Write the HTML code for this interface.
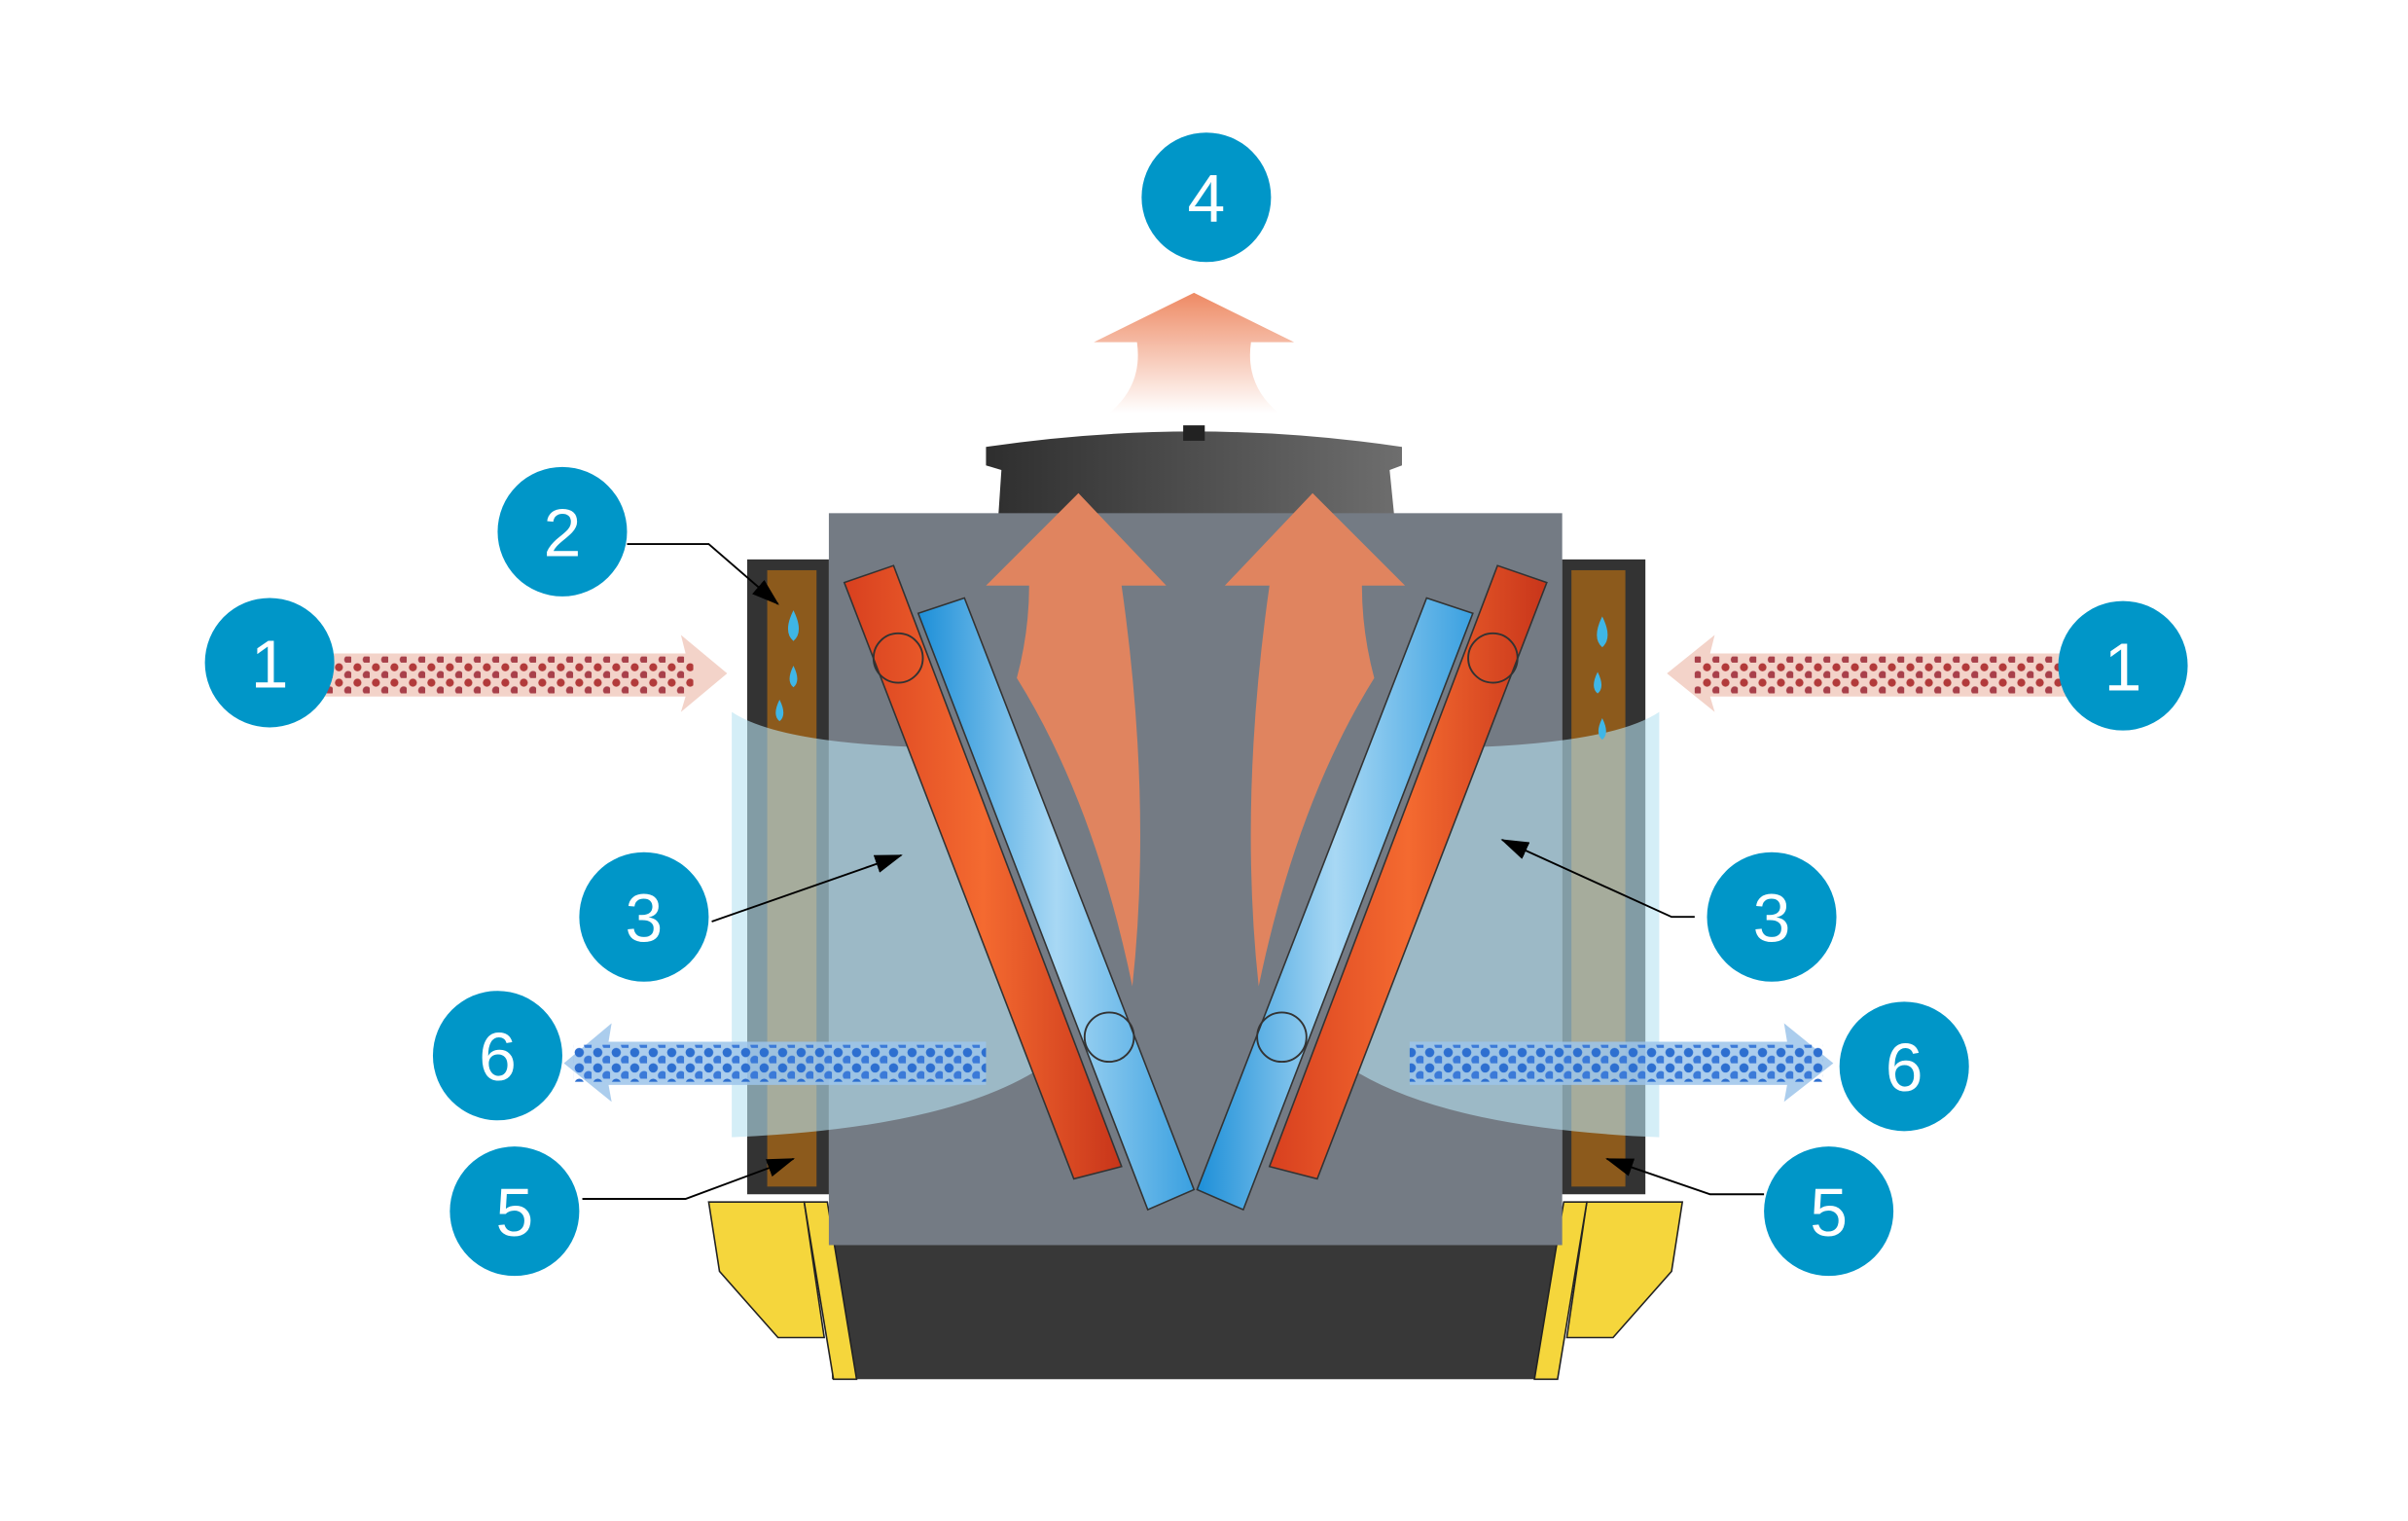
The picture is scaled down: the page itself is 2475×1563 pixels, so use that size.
<!DOCTYPE html>
<html><head><meta charset="utf-8"><style>html,body{margin:0;padding:0;background:#fff}svg{display:block}</style></head>
<body>
<svg width="2475" height="1563" viewBox="0 0 1563 987" xmlns="http://www.w3.org/2000/svg" font-family="Liberation Sans, sans-serif">
<defs>
<linearGradient id="fan" x1="0" x2="1"><stop offset="0" stop-color="#2e2e2e"/><stop offset="1" stop-color="#6e6e6e"/></linearGradient>
<linearGradient id="up" x1="0" y1="0" x2="0" y2="1"><stop offset="0" stop-color="#ee8a64"/><stop offset="1" stop-color="#ee8a64" stop-opacity="0"/></linearGradient>
<linearGradient id="og" x1="0" x2="1"><stop offset="0" stop-color="#d8401f"/><stop offset=".5" stop-color="#f46a30"/><stop offset="1" stop-color="#c8351a"/></linearGradient>
<linearGradient id="bg" x1="0" x2="1"><stop offset="0" stop-color="#1d8fd8"/><stop offset=".5" stop-color="#a8d8f4"/><stop offset="1" stop-color="#3aa0e0"/></linearGradient>
<pattern id="rd" width="12" height="10" patternUnits="userSpaceOnUse"><circle cx="4" cy="3" r="2.6" fill="#b23a3a"/><circle cx="10" cy="8" r="2.6" fill="#a8404a"/></pattern>
<pattern id="bd" width="12" height="10" patternUnits="userSpaceOnUse"><circle cx="4" cy="3" r="3" fill="#2d6fd0"/><circle cx="10" cy="8" r="3" fill="#3b7ad8"/></pattern>
<marker id="ah" markerWidth="18" markerHeight="12" refX="17" refY="6" orient="auto" markerUnits="userSpaceOnUse" viewBox="0 0 18 12"><path d="M0,0L18,6L0,12z" fill="#000"/></marker>
</defs>
<path d="M710,222 L775,190 L840,222 L812,222 Q808,250 830,268 L720,268 Q742,250 738,222 Z" fill="url(#up)"/>
<path d="M640,290 Q775,270 910,290 L910,302 L902,305 L905,335 L648,335 L650,305 L640,302 Z" fill="url(#fan)"/>
<rect x="768" y="276" width="14" height="10" fill="#222"/>
<rect x="540" y="805" width="470" height="90" fill="#383838"/>
<polygon points="460,780 522,780 535,868 505,868 467,825" fill="#f5d63c" stroke="#222" stroke-width="1"/>
<polygon points="522,780 537,780 556,895 541,895" fill="#f5d63c" stroke="#222" stroke-width="1"/>
<polygon points="1092,780 1030,780 1017,868 1047,868 1085,825" fill="#f5d63c" stroke="#222" stroke-width="1"/>
<polygon points="1030,780 1015,780 996,895 1011,895" fill="#f5d63c" stroke="#222" stroke-width="1"/>
<rect x="538" y="333" width="476" height="475" fill="#747b84"/>
<rect x="485" y="363" width="53" height="412" fill="#333"/>
<rect x="498" y="370" width="32" height="400" fill="#8c5a1c"/>
<rect x="1014" y="363" width="54" height="412" fill="#333"/>
<rect x="1020" y="370" width="35" height="400" fill="#8c5a1c"/>
<path d="M475,462 Q505,482 600,485 L680,690 Q620,732 475,738 Z" fill="#b8e2f2" opacity=".6"/>
<path d="M1077,462 Q1047,482 952,485 L872,690 Q932,732 1077,738 Z" fill="#b8e2f2" opacity=".6"/>
<path d="M640,380 L700,320 L757,380 L728,380 Q748,520 735,640 Q710,520 660,440 Q668,410 668,380 Z" fill="#e0845f"/>
<path d="M912,380 L852,320 L795,380 L824,380 Q804,520 817,640 Q842,520 892,440 Q884,410 884,380 Z" fill="#e0845f"/>
<polygon points="548,378 580,367 728,757 697,765" fill="url(#og)" stroke="#333" stroke-width="1"/>
<polygon points="596,398 626,388 775,772 745,785" fill="url(#bg)" stroke="#333" stroke-width="1"/>
<polygon points="1004,378 972,367 824,757 855,765" fill="url(#og)" stroke="#333" stroke-width="1"/>
<polygon points="956,398 926,388 777,772 807,785" fill="url(#bg)" stroke="#333" stroke-width="1"/>
<g fill="none" stroke="#333" stroke-width="1.2"><circle cx="583" cy="427" r="16"/><circle cx="720" cy="673" r="16"/><circle cx="969" cy="427" r="16"/><circle cx="832" cy="673" r="16"/></g>
<g fill="#3fb6e6"><path d="M515,396 Q508,410 515,416 Q522,410 515,396Z"/><path d="M515,432 Q510,442 515,446 Q520,442 515,432Z"/><path d="M506,454 Q501,464 506,468 Q511,464 506,454Z"/><path d="M1040,400 Q1033,414 1040,420 Q1047,414 1040,400Z"/><path d="M1037,436 Q1032,446 1037,450 Q1042,446 1037,436Z"/><path d="M1040,466 Q1035,476 1040,480 Q1045,476 1040,466Z"/></g>
<path d="M205,424 L445,424 L442,412 L472,437 L442,462 L445,452 L205,452 Z" fill="#f0c8bc" opacity=".8"/>
<rect x="210" y="426" width="240" height="24" fill="url(#rd)"/>
<path d="M1345,424 L1110,424 L1113,412 L1082,437 L1113,462 L1110,452 L1345,452 Z" fill="#f0c8bc" opacity=".8"/>
<rect x="1100" y="426" width="240" height="24" fill="url(#rd)"/>
<path d="M640,676 L395,676 L397,664 L366,690 L397,715 L395,704 L640,704 Z" fill="#9cc4ea" opacity=".85"/>
<rect x="372" y="678" width="268" height="24" fill="url(#bd)"/>
<path d="M915,676 L1160,676 L1158,664 L1190,690 L1158,715 L1160,704 L915,704 Z" fill="#9cc4ea" opacity=".85"/>
<rect x="915" y="678" width="268" height="24" fill="url(#bd)"/>
<g stroke="#000" stroke-width="1.2" fill="none" marker-end="url(#ah)">
<path d="M407,353 L460,353 L505,392"/>
<path d="M462,598 L585,555"/>
<path d="M1100,595 L1085,595 L975,545"/>
<path d="M378,778 L445,778 L515,752"/>
<path d="M1145,775 L1110,775 L1043,752"/>
</g>
<g fill="#0096c8">
<circle cx="175" cy="430" r="42"/><circle cx="1378" cy="432" r="42"/><circle cx="365" cy="345" r="42"/>
<circle cx="418" cy="595" r="42"/><circle cx="1150" cy="595" r="42"/><circle cx="783" cy="128" r="42"/>
<circle cx="334" cy="786" r="42"/><circle cx="1187" cy="786" r="42"/><circle cx="323" cy="685" r="42"/><circle cx="1236" cy="692" r="42"/>
</g>
<g fill="#fff" font-size="44" text-anchor="middle">
<text x="175" y="446">1</text><text x="1378" y="448">1</text><text x="365" y="361">2</text>
<text x="418" y="611">3</text><text x="1150" y="611">3</text><text x="783" y="144">4</text>
<text x="334" y="802">5</text><text x="1187" y="802">5</text><text x="323" y="701">6</text><text x="1236" y="708">6</text>
</g>
</svg>
</body></html>
